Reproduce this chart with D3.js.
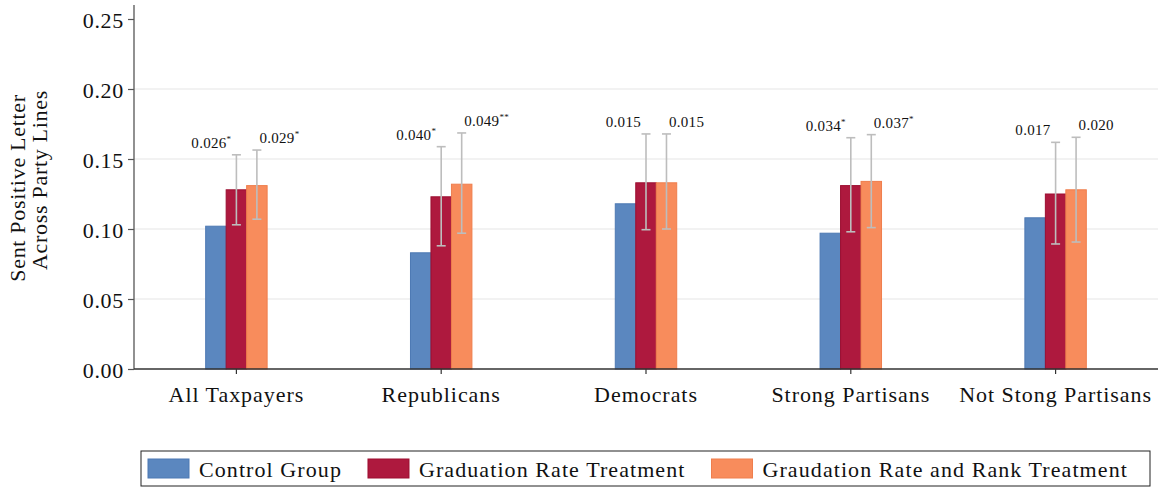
<!DOCTYPE html>
<html>
<head>
<meta charset="utf-8">
<script src="https://cdn.jsdelivr.net/npm/d3@7/dist/d3.min.js"></script>
<style>
  html, body { margin: 0; padding: 0; background: #fff; }
  svg { display: block; }
  text { font-family: "Liberation Serif", "Times New Roman", serif; fill: #111; }
</style>
</head>
<body>
<svg id="chart" width="1158" height="487"></svg>
<script>
// Categories and series
const categories = ["All Taxpayers", "Republicans", "Democrats", "Strong Partisans", "Not Stong Partisans"];
const seriesNames = ["Control Group", "Graduation Rate Treatment", "Graudation Rate and Rank Treatment"];
const seriesColors = ["#5b87bf", "#ae193e", "#f88c5c"];
const seriesEdges = ["#4d79b3", "#9c0f31", "#ef7e4d"];

// Share sending a positive letter across party lines, per group
const controlValues = [0.102, 0.083, 0.118, 0.097, 0.108];
const gradRateValues = [0.128, 0.123, 0.133, 0.131, 0.125];
const gradRankValues = [0.131, 0.132, 0.133, 0.134, 0.128];

// 95% confidence interval bounds for the two treatment arms
const gradRateLow = [0.103, 0.088, 0.0995, 0.098, 0.0893];
const gradRateHigh = [0.153, 0.1588, 0.1679, 0.1652, 0.1619];
const gradRankLow = [0.107, 0.097, 0.100, 0.101, 0.0907];
const gradRankHigh = [0.1564, 0.1686, 0.1679, 0.1674, 0.1655];

// Treatment effects versus control, with significance stars
const gradRateEffect = ["0.026", "0.040", "0.015", "0.034", "0.017"];
const gradRateStars = ["*", "*", "", "*", ""];
const gradRankEffect = ["0.029", "0.049", "0.015", "0.037", "0.020"];
const gradRankStars = ["*", "**", "", "*", ""];

const yTicks = [0.00, 0.05, 0.10, 0.15, 0.20, 0.25];

const svg = d3.select("#chart");

const x = d3.scaleBand().domain(categories).range([134, 1158]).padding(0);
const y = d3.scaleLinear().domain([0, 0.26]).range([369, 5]);
const barW = x.bandwidth() * 0.1;

// horizontal grid
svg.append("g")
  .selectAll("line")
  .data(yTicks.filter(t => t > 0 && t < 0.25))
  .join("line")
  .attr("x1", 134).attr("x2", 1158)
  .attr("y1", d => y(d)).attr("y2", d => y(d))
  .attr("stroke", "#e6e6e6").attr("stroke-width", 1.2);

// bars
const seriesValues = [controlValues, gradRateValues, gradRankValues];
const barData = [];
categories.forEach((c, i) => {
  seriesValues.forEach((vals, s) => {
    barData.push({ cat: c, s, v: vals[i] });
  });
});

svg.append("g")
  .selectAll("rect")
  .data(barData)
  .join("rect")
  .attr("x", d => x(d.cat) + x.bandwidth() / 2 + (d.s - 1) * barW - barW / 2)
  .attr("y", d => y(d.v))
  .attr("width", barW)
  .attr("height", d => y(0) - y(d.v))
  .attr("fill", d => seriesColors[d.s])
  .attr("stroke", d => seriesEdges[d.s])
  .attr("stroke-width", 1);

// error bars
const errData = [];
categories.forEach((c, i) => {
  errData.push({ cat: c, s: 1, lo: gradRateLow[i], hi: gradRateHigh[i], label: gradRateEffect[i], stars: gradRateStars[i] });
  errData.push({ cat: c, s: 2, lo: gradRankLow[i], hi: gradRankHigh[i], label: gradRankEffect[i], stars: gradRankStars[i] });
});
const cx = d => x(d.cat) + x.bandwidth() / 2 + (d.s - 1) * barW;
const capHalf = 4.5;

const eg = svg.append("g").attr("stroke", "#bdbdbd").attr("stroke-width", 1.6);
eg.selectAll("line.v").data(errData).join("line").attr("class", "v")
  .attr("x1", cx).attr("x2", cx)
  .attr("y1", d => y(d.lo)).attr("y2", d => y(d.hi));
eg.selectAll("line.t").data(errData).join("line").attr("class", "t")
  .attr("x1", d => cx(d) - capHalf).attr("x2", d => cx(d) + capHalf)
  .attr("y1", d => y(d.hi)).attr("y2", d => y(d.hi));
eg.selectAll("line.b").data(errData).join("line").attr("class", "b")
  .attr("x1", d => cx(d) - capHalf).attr("x2", d => cx(d) + capHalf)
  .attr("y1", d => y(d.lo)).attr("y2", d => y(d.lo));

// effect labels above the error bars
const lbl = svg.append("g")
  .selectAll("text")
  .data(errData)
  .join("text")
  .attr("x", d => d.s === 1 ? cx(d) - 5 : cx(d) + 2.5)
  .attr("y", d => y(d.hi) - 7)
  .attr("text-anchor", d => d.s === 1 ? "end" : "start")
  .style("font-size", "15px")
  .style("letter-spacing", "0.3px")
  .attr("fill", "#222");
lbl.append("tspan").text(d => d.label);
lbl.filter(d => d.stars !== "")
  .append("tspan")
  .attr("dy", -6)
  .style("font-size", "9px")
  .text(d => d.stars);

// axes
const yAxis = d3.axisLeft(y).tickValues(yTicks).tickFormat(d3.format(".2f")).tickSize(6).tickPadding(4);
const gy = svg.append("g").attr("transform", "translate(134,0)").call(yAxis);
gy.select(".domain").attr("stroke", "#555").attr("stroke-width", 1.3).attr("d", "M0,5V369");
gy.selectAll(".tick line").attr("stroke", "#555").attr("stroke-width", 1.2);
gy.selectAll(".tick text")
  .attr("dy", "0.4em")
  .style("font-size", "22px")
  .style("letter-spacing", "0.7px")
  .attr("fill", "#111");

const xAxis = d3.axisBottom(x).tickSize(5).tickPadding(12);
const gx = svg.append("g").attr("transform", "translate(0,369)").call(xAxis);
gx.select(".domain").attr("stroke", "#333").attr("stroke-width", 1.3).attr("d", "M134,0H1158");
gx.selectAll(".tick line").attr("stroke", "#333").attr("stroke-width", 1.2);
gx.selectAll(".tick text")
  .style("font-size", "22px")
  .style("letter-spacing", "0.95px")
  .attr("fill", "#111");

// y-axis title (two lines)
const yTitle = [
  { text: "Sent Positive Letter", bx: 25, cy: 188 },
  { text: "Across Party Lines", bx: 47, cy: 180 }
];
svg.append("g")
  .selectAll("text")
  .data(yTitle)
  .join("text")
  .attr("transform", d => `translate(${d.bx},${d.cy}) rotate(-90)`)
  .attr("text-anchor", "middle")
  .style("font-size", "22px")
  .style("letter-spacing", "0.7px")
  .text(d => d.text);

// legend
const lg = svg.append("g");
lg.append("rect")
  .attr("x", 141).attr("y", 451).attr("width", 1009).attr("height", 35)
  .attr("fill", "#fff").attr("stroke", "#222").attr("stroke-width", 1);
let lx = 148;
seriesNames.forEach((name, s) => {
  lg.append("rect")
    .attr("x", lx).attr("y", 459).attr("width", 41).attr("height", 19)
    .attr("fill", seriesColors[s]).attr("stroke", seriesEdges[s]).attr("stroke-width", 1);
  const t = lg.append("text")
    .attr("x", lx + 51).attr("y", 477)
    .style("font-size", "22px")
    .style("letter-spacing", "1.08px")
    .text(name);
  lx = lx + 51 + t.node().getComputedTextLength() + 26;
});
</script>
</body>
</html>
